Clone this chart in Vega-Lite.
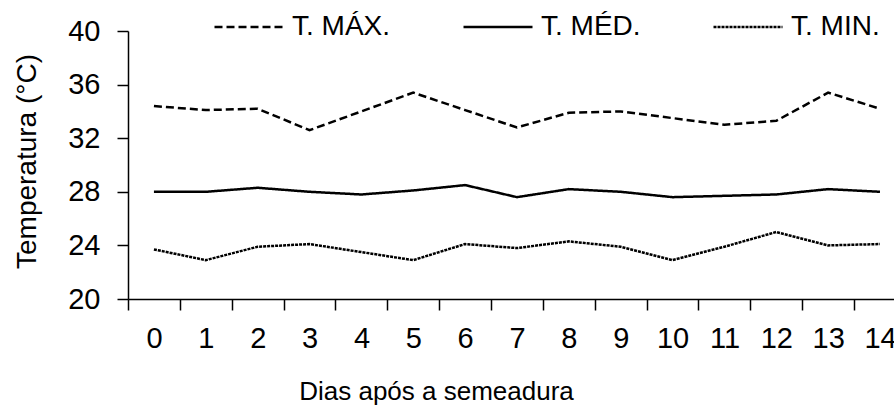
{
  "$schema": "https://vega.github.io/schema/vega-lite/v6.json",
  "width": 766,
  "height": 268,
  "autosize": {"type": "none"},
  "padding": {"left": 128, "top": 31, "right": 0, "bottom": 108},
  "config": {
    "view": {"stroke": null},
    "font": "Liberation Sans",
    "axis": {
      "grid": false,
      "ticks": true,
      "domainColor": "black",
      "domainWidth": 1.5,
      "tickColor": "black",
      "tickWidth": 1.5,
      "tickSize": 11,
      "labelColor": "black",
      "labelFontSize": 29,
      "titleColor": "black",
      "titleFontSize": 28,
      "titleFontWeight": "normal"
    }
  },
  "data": {
    "values": [
      {"dia": 0, "serie": "T. MÁX.", "temp": 34.4},
      {"dia": 1, "serie": "T. MÁX.", "temp": 34.1},
      {"dia": 2, "serie": "T. MÁX.", "temp": 34.2},
      {"dia": 3, "serie": "T. MÁX.", "temp": 32.6},
      {"dia": 4, "serie": "T. MÁX.", "temp": 34.0},
      {"dia": 5, "serie": "T. MÁX.", "temp": 35.4},
      {"dia": 6, "serie": "T. MÁX.", "temp": 34.1},
      {"dia": 7, "serie": "T. MÁX.", "temp": 32.8},
      {"dia": 8, "serie": "T. MÁX.", "temp": 33.9},
      {"dia": 9, "serie": "T. MÁX.", "temp": 34.0},
      {"dia": 10, "serie": "T. MÁX.", "temp": 33.5},
      {"dia": 11, "serie": "T. MÁX.", "temp": 33.0},
      {"dia": 12, "serie": "T. MÁX.", "temp": 33.3},
      {"dia": 13, "serie": "T. MÁX.", "temp": 35.4},
      {"dia": 14, "serie": "T. MÁX.", "temp": 34.2},
      {"dia": 0, "serie": "T. MÉD.", "temp": 28.0},
      {"dia": 1, "serie": "T. MÉD.", "temp": 28.0},
      {"dia": 2, "serie": "T. MÉD.", "temp": 28.3},
      {"dia": 3, "serie": "T. MÉD.", "temp": 28.0},
      {"dia": 4, "serie": "T. MÉD.", "temp": 27.8},
      {"dia": 5, "serie": "T. MÉD.", "temp": 28.1},
      {"dia": 6, "serie": "T. MÉD.", "temp": 28.5},
      {"dia": 7, "serie": "T. MÉD.", "temp": 27.6},
      {"dia": 8, "serie": "T. MÉD.", "temp": 28.2},
      {"dia": 9, "serie": "T. MÉD.", "temp": 28.0},
      {"dia": 10, "serie": "T. MÉD.", "temp": 27.6},
      {"dia": 11, "serie": "T. MÉD.", "temp": 27.7},
      {"dia": 12, "serie": "T. MÉD.", "temp": 27.8},
      {"dia": 13, "serie": "T. MÉD.", "temp": 28.2},
      {"dia": 14, "serie": "T. MÉD.", "temp": 28.0},
      {"dia": 0, "serie": "T. MIN.", "temp": 23.7},
      {"dia": 1, "serie": "T. MIN.", "temp": 22.9},
      {"dia": 2, "serie": "T. MIN.", "temp": 23.9},
      {"dia": 3, "serie": "T. MIN.", "temp": 24.1},
      {"dia": 4, "serie": "T. MIN.", "temp": 23.5},
      {"dia": 5, "serie": "T. MIN.", "temp": 22.9},
      {"dia": 6, "serie": "T. MIN.", "temp": 24.1},
      {"dia": 7, "serie": "T. MIN.", "temp": 23.8},
      {"dia": 8, "serie": "T. MIN.", "temp": 24.3},
      {"dia": 9, "serie": "T. MIN.", "temp": 23.9},
      {"dia": 10, "serie": "T. MIN.", "temp": 22.9},
      {"dia": 11, "serie": "T. MIN.", "temp": 23.9},
      {"dia": 12, "serie": "T. MIN.", "temp": 25.0},
      {"dia": 13, "serie": "T. MIN.", "temp": 24.0},
      {"dia": 14, "serie": "T. MIN.", "temp": 24.1}
    ]
  },
  "mark": {"type": "line", "strokeWidth": 2.5, "color": "black"},
  "encoding": {
    "x": {
      "field": "dia",
      "type": "quantitative",
      "scale": {"domain": [-0.5, 14.27], "nice": false, "zero": false},
      "axis": {
        "values": [-0.5, 0.5, 1.5, 2.5, 3.5, 4.5, 5.5, 6.5, 7.5, 8.5, 9.5, 10.5, 11.5, 12.5, 13.5],
        "labelExpr": "format(datum.value + 0.5, 'd')",
        "labelOffset": 26,
        "labelPadding": 14,
        "labelOverlap": false,
        "labelFlush": false,
        "labelBound": false,
        "title": "Dias após a semeadura",
        "titleFontSize": 26,
        "titleX": 308,
        "titleY": 100,
        "titleAlign": "center",
        "titleBaseline": "alphabetic"
      }
    },
    "y": {
      "field": "temp",
      "type": "quantitative",
      "scale": {"domain": [20, 40], "nice": false, "zero": false},
      "axis": {
        "values": [20, 24, 28, 32, 36, 40],
        "labelPadding": 17,
        "title": "Temperatura (°C)",
        "titleAngle": -90,
        "titleX": -93,
        "titleY": 130,
        "titleAlign": "center",
        "titleBaseline": "alphabetic"
      }
    },
    "strokeDash": {
      "field": "serie",
      "type": "nominal",
      "scale": {
        "domain": ["T. MÁX.", "T. MÉD.", "T. MIN."],
        "range": [[8, 4], [1, 0], [3, 1]]
      },
      "legend": {
        "orient": "none",
        "legendX": 85,
        "legendY": -40,
        "direction": "horizontal",
        "columns": 3,
        "title": null,
        "padding": 0,
        "symbolType": "stroke",
        "symbolSize": 4761,
        "symbolStrokeWidth": 2.5,
        "symbolStrokeColor": "black",
        "labelFontSize": 28,
        "labelColor": "black",
        "labelOffset": 7,
        "columnPadding": 67,
        "labelLimit": 0
      }
    }
  }
}
